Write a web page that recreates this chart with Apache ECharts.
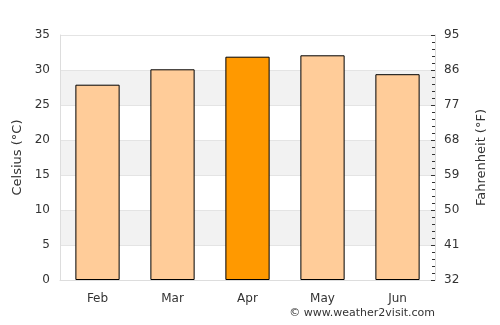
<!DOCTYPE html>
<html><head><meta charset="utf-8">
<script src="https://cdn.jsdelivr.net/npm/echarts@6/dist/echarts.min.js"></script>
<style>html,body{margin:0;padding:0;background:#fff}#c{width:500px;height:325px}</style>
</head><body><div id="c"></div>
<script>
const months = ['Feb','Mar','Apr','May','Jun'];
const celsius = [27.9, 30.1, 31.9, 32.1, 29.4];
const highlightMonth = 'Apr';
const celsiusTicks = [0, 35, 5];
const fahrenheitTicks = [32, 95, 9];

const font = 'DejaVu Sans';
const txt = '#333';
const chart = echarts.init(document.getElementById('c'), null, {renderer:'canvas'});
chart.setOption({
  animation:false,
  grid:{left:60, right:65, top:35, bottom:45},
  graphic:[{type:'text', right:65, top:308, style:{text:'© www.weather2visit.com', font:'11px "DejaVu Sans"', fill:txt}}],
  xAxis:{type:'category', data:months,
    axisLine:{lineStyle:{color:'#ddd'}}, axisTick:{show:false},
    axisLabel:{color:txt, fontFamily:font, fontSize:12, margin:13}},
  yAxis:[
    {type:'value', min:celsiusTicks[0], max:celsiusTicks[1], interval:celsiusTicks[2],
     name:'Celsius (°C)', nameLocation:'middle', nameGap:30, nameRotate:90,
     nameTextStyle:{color:txt, fontFamily:font, fontSize:13},
     axisLine:{show:true, lineStyle:{color:'#ddd'}}, axisTick:{show:false},
     axisLabel:{color:txt, fontFamily:font, fontSize:12, margin:10},
     splitLine:{show:true, lineStyle:{color:'#e4e4e4'}},
     splitArea:{show:true, areaStyle:{color:['#ffffff','#f2f2f2']}}},
    {type:'value', min:fahrenheitTicks[0], max:fahrenheitTicks[1], interval:fahrenheitTicks[2],
     position:'right',
     name:'Fahrenheit (°F)', nameLocation:'middle', nameGap:40, nameRotate:90,
     nameTextStyle:{color:txt, fontFamily:font, fontSize:13},
     axisLine:{show:true, lineStyle:{color:'#ddd'}},
     axisTick:{show:true, inside:true, length:4, lineStyle:{color:'#333'}},
     minorTick:{show:true, splitNumber:5, length:3, lineStyle:{color:'#333'}},
     axisLabel:{color:txt, fontFamily:font, fontSize:12, margin:9},
     splitLine:{show:false}}
  ],
  series:[{type:'bar', yAxisIndex:0, barWidth:'59%',
    data:celsius.map((v,i)=>({value:v, itemStyle:{color: months[i]===highlightMonth ? '#ff9900' : '#ffcc99'}})),
    itemStyle:{borderColor:'#000', borderWidth:1}}]
});
</script></body></html>
